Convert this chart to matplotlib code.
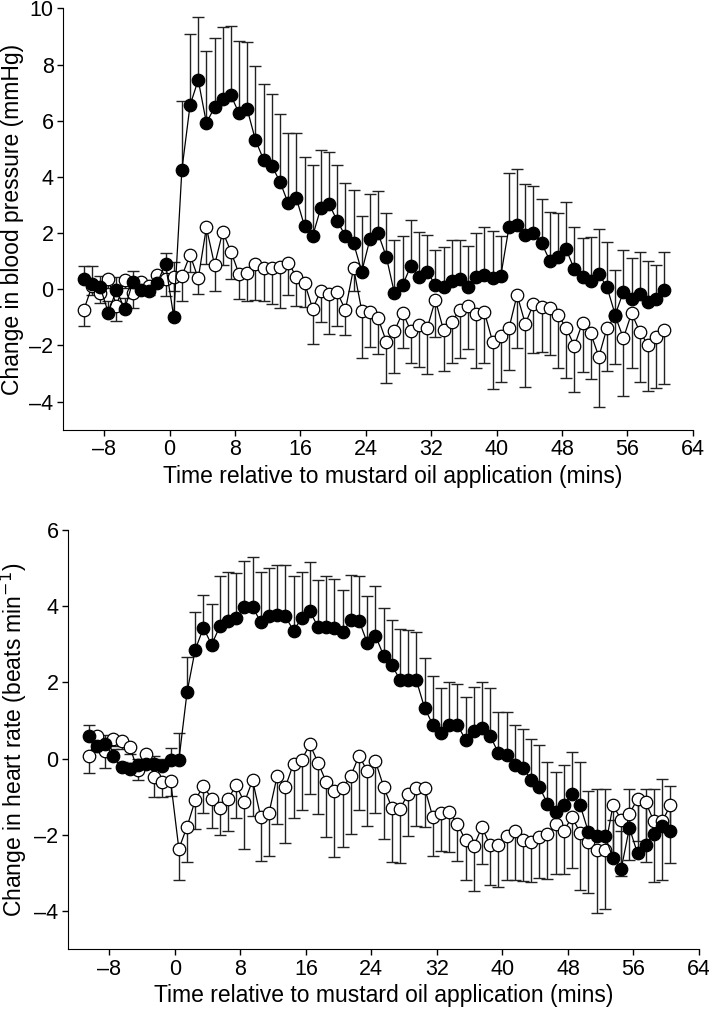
import numpy as np
import matplotlib.pyplot as plt

plt.rcParams['font.family'] = ['Liberation Sans', 'DejaVu Sans']

# time points (min), one every minute, centred on the half minute
t = np.arange(-10.5, 61.0, 1.0)

# blood pressure, mustard oil (filled) - mean and upper SEM
bp_mo = [0.36, 0.18, 0.09, -0.83, -0.02, -0.71, 0.27, -0.02, -0.05, 0.24, 0.9, -0.97,
         4.25, 6.55, 7.45, 5.92, 6.48, 6.77, 6.9, 6.26, 6.4, 5.31, 4.61, 4.39,
         3.83, 3.06, 3.24, 2.25, 1.9, 2.9, 3.04, 2.43, 1.9, 1.64, 0.63, 1.78,
         1.99, 1.16, -0.14, 0.15, 0.83, 0.43, 0.63, 0.15, 0.07, 0.3, 0.37, 0.09,
         0.45, 0.51, 0.39, 0.47, 2.2, 2.29, 1.93, 1.99, 1.64, 1.02, 1.16, 1.42,
         0.71, 0.43, 0.3, 0.54, 0.07, -0.91, -0.08, -0.36, -0.17, -0.44, -0.36, -0.02]
bp_mo_err = [0.47, 0.65, 0.4, 0.4, 0.45, 0.4, 0.38, 0.3, 0.3, 0.35, 0.38, 1.95,
             2.45, 2.55, 2.25, 2.55, 2.46, 2.58, 2.48, 2.57, 2.39, 2.64, 2.71, 2.56,
             2.41, 2.51, 2.33, 2.47, 2.52, 2.06, 1.86, 1.98, 1.88, 1.89, 1.98, 1.6,
             1.51, 1.57, 1.89, 1.76, 1.64, 1.62, 1.3, 1.25, 1.42, 1.45, 1.38, 1.46,
             1.56, 1.69, 1.7, 1.44, 1.93, 1.99, 1.81, 1.7, 1.57, 1.74, 1.57, 1.7,
             1.49, 1.38, 1.57, 1.6, 1.62, 1.6, 1.48, 1.46, 1.51, 1.46, 1.22, 1.36]

# blood pressure, vehicle (open) - mean and lower SEM
bp_veh = [-0.74, 0.1, -0.14, 0.36, -0.59, 0.33, -0.14, 0.27, 0.1, 0.51, 0.36, 0.45,
          0.47, 1.22, 0.39, 2.2, 0.86, 2.05, 1.34, 0.54, 0.57, 0.89, 0.75, 0.75,
          0.78, 0.95, 0.45, 0.23, -0.69, -0.05, -0.17, -0.11, -0.74, 0.75, -0.76, -0.8,
          -1.03, -1.86, -1.48, -0.83, -1.48, -1.27, -1.39, -0.38, -1.45, -1.15, -0.74, -0.59,
          -0.88, -0.81, -1.86, -1.66, -1.39, -0.2, -1.23, -0.53, -0.64, -0.68, -0.91, -1.37,
          -2.02, -1.19, -1.57, -2.4, -1.37, -0.95, -1.74, -0.85, -1.51, -1.98, -1.69, -1.45]
bp_veh_err = [0.58, 0.3, 0.35, 0.3, 0.54, 0.3, 0.51, 0.3, 0.3, 0.35, 0.6, 0.5,
              0.89, 0.6, 0.56, 1.3, 0.92, 1.2, 0.97, 0.89, 0.98, 1.27, 1.17, 1.28,
              1.43, 1.15, 1.03, 0.85, 1.26, 1.1, 1.43, 1.19, 0.89, 0.8, 1.67, 1.24,
              1.28, 1.49, 1.49, 1.27, 1.13, 1.51, 1.64, 1.31, 1.45, 1.48, 1.72, 1.53,
              1.93, 1.82, 1.69, 1.63, 1.48, 1.9, 2.24, 1.73, 1.6, 1.66, 1.88, 1.8,
              1.62, 1.74, 1.62, 1.8, 1.53, 1.7, 2.06, 1.96, 1.78, 1.63, 1.81, 1.92]

# heart rate, mustard oil (filled)
hr_mo = [0.6, 0.32, 0.37, 0.06, -0.23, -0.27, -0.16, -0.14, -0.14, -0.2, -0.03, -0.04,
         1.74, 2.86, 3.43, 2.99, 3.47, 3.6, 3.68, 3.97, 3.97, 3.59, 3.73, 3.78,
         3.73, 3.36, 3.69, 3.87, 3.45, 3.45, 3.43, 3.32, 3.63, 3.62, 3.04, 3.23,
         2.7, 2.45, 2.07, 2.07, 2.05, 1.33, 0.89, 0.67, 0.88, 0.88, 0.5, 0.72,
         0.8, 0.6, 0.15, 0.09, -0.16, -0.25, -0.55, -0.74, -1.18, -1.4, -1.22, -0.93,
         -1.23, -1.93, -2.02, -2.02, -2.61, -2.9, -1.82, -2.49, -2.26, -1.99, -1.76, -1.91]
hr_mo_err = [0.27, 0.2, 0.25, 0.2, 0.15, 0.15, 0.15, 0.2, 0.2, 0.2, 0.31, 0.71,
             0.93, 0.98, 0.87, 1.07, 1.33, 1.29, 1.18, 1.23, 1.32, 1.31, 1.28, 1.29,
             1.36, 1.43, 1.21, 1.29, 1.25, 1.35, 1.29, 1.1, 1.19, 1.18, 1.22, 1.31,
             1.26, 1.18, 1.32, 1.3, 1.28, 1.31, 1.27, 1.19, 1.13, 1.09, 1.11, 1.15,
             1.2, 1.26, 1.08, 1.14, 1.03, 1.03, 1.07, 1.09, 1.09, 1.04, 1.04, 1.11,
             1.15, 1.07, 1.22, 1.22, 1.0, 1.0, 1.02, 1.5, 1.46, 1.2, 1.23, 1.2]

# heart rate, vehicle (open)
hr_veh = [0.06, 0.6, 0.19, 0.52, 0.45, 0.31, -0.31, 0.12, -0.48, -0.61, -0.6, -2.37,
          -1.79, -1.09, -0.71, -1.06, -1.29, -1.06, -0.7, -1.15, -0.57, -1.54, -1.43, -0.46,
          -0.75, -0.13, -0.03, 0.37, -0.11, -0.62, -0.86, -0.77, -0.45, 0.08, -0.33, -0.07,
          -0.74, -1.29, -1.32, -0.92, -0.77, -0.77, -1.53, -1.44, -1.4, -1.71, -2.15, -2.3,
          -1.8, -2.28, -2.27, -2.04, -1.89, -2.13, -2.2, -2.07, -1.98, -1.71, -1.89, -1.54,
          -1.95, -2.2, -2.39, -2.39, -1.23, -1.6, -1.45, -1.06, -1.15, -1.65, -1.65, -1.23]
hr_veh_err = [0.44, 0.2, 0.44, 0.2, 0.2, 0.2, 0.25, 0.2, 0.54, 0.39, 0.39, 0.82,
              0.93, 0.77, 0.72, 0.76, 0.72, 0.83, 0.86, 1.22, 0.94, 1.16, 1.13, 1.25,
              1.46, 1.43, 1.33, 1.31, 1.34, 1.45, 1.72, 1.56, 1.54, 1.44, 1.43, 1.37,
              1.37, 1.43, 1.42, 1.1, 0.99, 1.02, 1.02, 0.99, 1.06, 0.99, 1.03, 1.18,
              0.96, 1.05, 1.11, 1.14, 1.29, 1.09, 1.05, 1.06, 1.18, 1.33, 1.13, 1.33,
              1.49, 1.33, 1.66, 1.57, 1.3, 1.49, 1.2, 1.1, 1.57, 1.6, 1.54, 1.51]

xticks = np.arange(-8, 65, 8)
xlabel = "Time relative to mustard oil application (mins)"

fig = plt.figure(figsize=(7.09, 10.15), dpi=100)
ax1 = fig.add_axes([0.0893, 0.5766, 0.888, 0.4152])
ax2 = fig.add_axes([0.0963, 0.065, 0.8896, 0.4128])


def draw(ax, mo, mo_err, veh, veh_err):
    z = np.zeros(len(t))
    # open circles, error bars downwards
    ax.errorbar(t, veh, yerr=[veh_err, z], fmt='none', ecolor='#222222',
                elinewidth=1.0, capsize=4, capthick=1.0, zorder=1)
    ax.plot(t, veh, '-o', color='black', lw=0.9, ms=9, mfc='white',
            mec='black', mew=0.9, zorder=3)
    # filled circles, error bars upwards
    ax.errorbar(t, mo, yerr=[z, mo_err], fmt='none', ecolor='#222222',
                elinewidth=1.0, capsize=4, capthick=1.0, zorder=2)
    ax.plot(t, mo, '-o', color='black', lw=0.9, ms=9, mfc='black',
            mec='black', mew=0.9, zorder=4)

    ax.set_xlim(-13, 64)
    ax.set_xticks(xticks)
    ax.set_xticklabels([f"{v}".replace('-', '\u2013') for v in xticks])
    ax.spines['top'].set_visible(False)
    ax.spines['right'].set_visible(False)
    ax.tick_params(direction='out', length=4, width=1, labelsize=15.5, pad=3)


draw(ax1, bp_mo, bp_mo_err, bp_veh, bp_veh_err)
ax1.set_ylim(-5, 10)
ax1.set_yticks(np.arange(-4, 11, 2))
ax1.set_yticklabels([f"{v}".replace('-', '\u2013') for v in range(-4, 11, 2)])
ax1.set_ylabel("Change in blood pressure (mmHg)", fontsize=16.5, labelpad=4)
ax1.set_xlabel(xlabel, fontsize=16.5)
ax1.xaxis.set_label_coords(0.523, -0.084)

draw(ax2, hr_mo, hr_mo_err, hr_veh, hr_veh_err)
ax2.set_ylim(-5, 6)
ax2.set_yticks(np.arange(-4, 7, 2))
ax2.set_yticklabels([f"{v}".replace('-', '\u2013') for v in range(-4, 7, 2)])
ax2.set_ylabel("Change in heart rate (beats min$^{-1}$)", fontsize=16.5, labelpad=4)
ax2.set_xlabel(xlabel, fontsize=16.5, labelpad=3)

fig.savefig("out.png", dpi=100)
